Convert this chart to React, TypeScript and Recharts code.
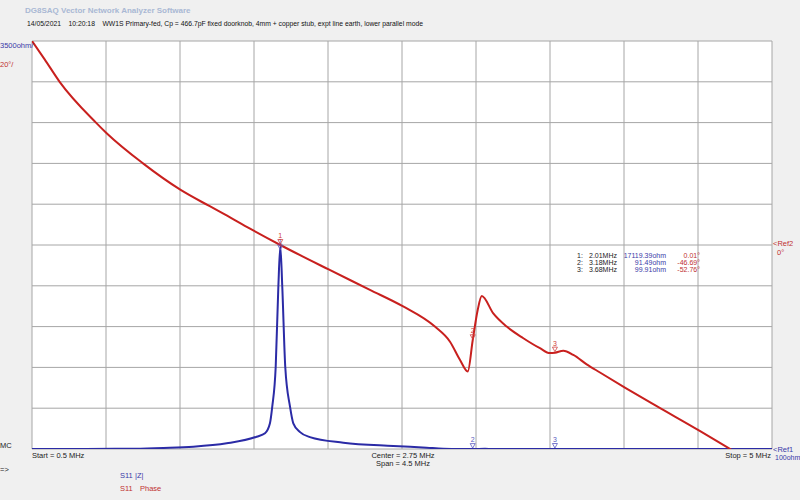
import React from 'react';
import { LineChart, Line, XAxis, YAxis, CartesianGrid, ReferenceDot } from 'recharts';

// sweep 0.5 .. 5 MHz, 10 divisions
const freqTicks = [0.5, 0.95, 1.4, 1.85, 2.3, 2.75, 3.2, 3.65, 4.1, 4.55, 5];
const phaseTicks = [-100, -80, -60, -40, -20, 0, 20, 40, 60, 80, 100];

// S11 phase (deg)
const phaseFreqMHz = [
  0.5, 0.577, 0.668, 0.889, 0.954, 1.175, 1.404, 1.581, 1.672, 1.826, 2.01, 2.304, 2.555, 2.754,
  2.95, 3.042, 3.103, 3.15, 3.18, 3.21, 3.235, 3.305, 3.387, 3.488, 3.589, 3.65, 3.68, 3.731,
  3.792, 3.873, 3.954, 4.108, 4.299, 4.558, 4.734, 5.0,
];
const phaseDeg = [
  100, 91, 80, 60, 54.8, 40, 27, 19, 15, 8, 0, -12, -22, -30,
  -40, -47.4, -56.4, -62, -46.7, -32, -25, -33.5, -40, -45.7, -50.6, -53, -52.8, -51.8,
  -53.9, -58.5, -62.5, -70, -79, -91, -99.5, -112,
];

// S11 |Z| (ohm)
const zFreqMHz = [
  0.5, 0.8, 1.126, 1.3, 1.481, 1.684, 1.866, 1.917, 1.947, 1.961, 1.982, 1.998, 2.01, 2.022,
  2.04, 2.069, 2.089, 2.13, 2.19, 2.393, 2.697, 2.9, 3.0, 3.1, 3.18, 3.255, 3.3, 3.5, 3.68,
  4.06, 4.2, 5.0,
];
const zOhm = [
  96, 100, 126, 190, 297, 589, 1155, 1450, 2305, 3730, 7160, 14000, 17500, 14000,
  7160, 3730, 2305, 1550, 1120, 640, 357, 210, 126, 104, 91.5, 115, 103, 104, 99.9,
  101, 97, 92,
];

// marker table
const markerNo = ['1', '2', '3'];
const markerFreq = [2.01, 3.18, 3.68];
const markerZ = [17119.39, 91.49, 99.91];
const markerPhase = [0.01, -46.69, -52.76];

const phaseData = phaseFreqMHz.map((f, i) => ({ f, ph: phaseDeg[i] }));
const zData = zFreqMHz.map((f, i) => ({ f, z: zOhm[i] }));

const RED = '#c8201e';
const BLUE = '#2b2ba6';
const TXT_BLUE = '#3a3aa8';
const TXT_RED = '#c03030';
const FONT = '"Liberation Sans", Arial, sans-serif';

const markerShape = (label: string, color: string) => (props: any) => {
  const { cx, cy } = props;
  return (
    <g>
      <text x={cx} y={cy - 7} fontSize={7} fill={color} textAnchor="middle" fontFamily={FONT}>
        {label}
      </text>
      <path d={`M${cx - 2.5},${cy - 5.5} L${cx + 2.5},${cy - 5.5} L${cx},${cy - 1} Z`} fill="none" stroke={color} strokeWidth={0.8} />
    </g>
  );
};

export default function App() {
  return (
    <div style={{ position: 'absolute', left: 0, top: 0, width: 800, height: 500, background: '#f0f0f0', overflow: 'hidden' }}>
      <LineChart width={800} height={500} margin={{ top: 41, right: 28, bottom: 51, left: 32 }}>
        <CartesianGrid yAxisId="ph" stroke="#a6a6a6" strokeWidth={1} fill="#ffffff" />
        <XAxis dataKey="f" type="number" domain={[0.5, 5]} ticks={freqTicks} allowDataOverflow hide />
        <YAxis yAxisId="ph" type="number" domain={[-100, 100]} ticks={phaseTicks} allowDataOverflow hide />
        <YAxis yAxisId="z" type="number" domain={[100, 35100]} allowDataOverflow hide />
        <Line
          data={zData}
          dataKey="z"
          yAxisId="z"
          type="monotone"
          stroke={BLUE}
          strokeWidth={2}
          dot={false}
          isAnimationActive={false}
        />
        <Line
          data={phaseData}
          dataKey="ph"
          yAxisId="ph"
          type="monotone"
          stroke={RED}
          strokeWidth={2}
          dot={false}
          isAnimationActive={false}
        />
        {markerNo.map((m, i) => (
          <ReferenceDot
            key={'z' + m}
            yAxisId="z"
            x={markerFreq[i]}
            y={markerZ[i]}
            ifOverflow="visible"
            shape={markerShape(m, '#5a5ac0')}
          />
        ))}
        {markerNo.map((m, i) => (
          <ReferenceDot
            key={'p' + m}
            yAxisId="ph"
            x={markerFreq[i]}
            y={markerPhase[i]}
            ifOverflow="visible"
            shape={markerShape(m, '#d04040')}
          />
        ))}
      </LineChart>
      <svg
        width={800}
        height={500}
        style={{ position: 'absolute', left: 0, top: 0, pointerEvents: 'none' }}
        fontFamily={FONT}
      >
        <text x={25} y={13} fontSize={8} fontWeight="bold" fill="#a9b8d4">DG8SAQ Vector Network Analyzer Software</text>
        <text x={27} y={26} fontSize={7.2} fill="#111" xmlSpace="preserve" textLength={396} lengthAdjust="spacingAndGlyphs">
          {'14/05/2021    10:20:18    WW1S Primary-fed, Cp = 466.7pF fixed doorknob, 4mm + copper stub, expt line earth, lower parallel mode'}
        </text>
        <text x={0} y={48} fontSize={7.5} fill={TXT_BLUE}>3500ohm/</text>
        <text x={0} y={67} fontSize={7.5} fill={TXT_RED}>20°/</text>
        <text x={773} y={246} fontSize={7.5} fill={TXT_RED}>&lt;Ref2</text>
        <text x={777} y={255} fontSize={7.5} fill={TXT_RED}>0°</text>
        <text x={773} y={452} fontSize={7.5} fill={TXT_BLUE}>&lt;Ref1</text>
        <text x={775} y={460} fontSize={7} fill={TXT_BLUE}>100ohm</text>
        <text x={0} y={448} fontSize={7.5} fill="#222">MC</text>
        <text x={32} y={458} fontSize={7.5} fill="#222">Start = 0.5 MHz</text>
        <text x={403} y={458} fontSize={7.5} fill="#222" textAnchor="middle">Center = 2.75 MHz</text>
        <text x={403} y={466} fontSize={7.5} fill="#222" textAnchor="middle">Span = 4.5 MHz</text>
        <text x={771} y={458} fontSize={7.5} fill="#222" textAnchor="end">Stop = 5 MHz</text>
        <text x={0} y={472} fontSize={7.5} fill="#222">=&gt;</text>
        <text x={120} y={478} fontSize={7.5} fill={TXT_BLUE}>S11</text>
        <text x={135} y={478} fontSize={7.5} fill={TXT_BLUE}>|Z|</text>
        <text x={120} y={491} fontSize={7.5} fill={TXT_RED}>S11</text>
        <text x={140} y={491} fontSize={7.5} fill={TXT_RED}>Phase</text>
        {markerNo.map((m, i) => (
          <g key={m} fontSize={7}>
            <text x={577} y={258 + i * 7} fill="#222">{m}:</text>
            <text x={617} y={258 + i * 7} fill="#222" textAnchor="end">{markerFreq[i].toFixed(2)}MHz</text>
            <text x={666} y={258 + i * 7} fill={TXT_BLUE} textAnchor="end">{markerZ[i].toFixed(2)}ohm</text>
            <text x={700} y={258 + i * 7} fill={TXT_RED} textAnchor="end">{markerPhase[i].toFixed(2)}°</text>
          </g>
        ))}
      </svg>
    </div>
  );
}
